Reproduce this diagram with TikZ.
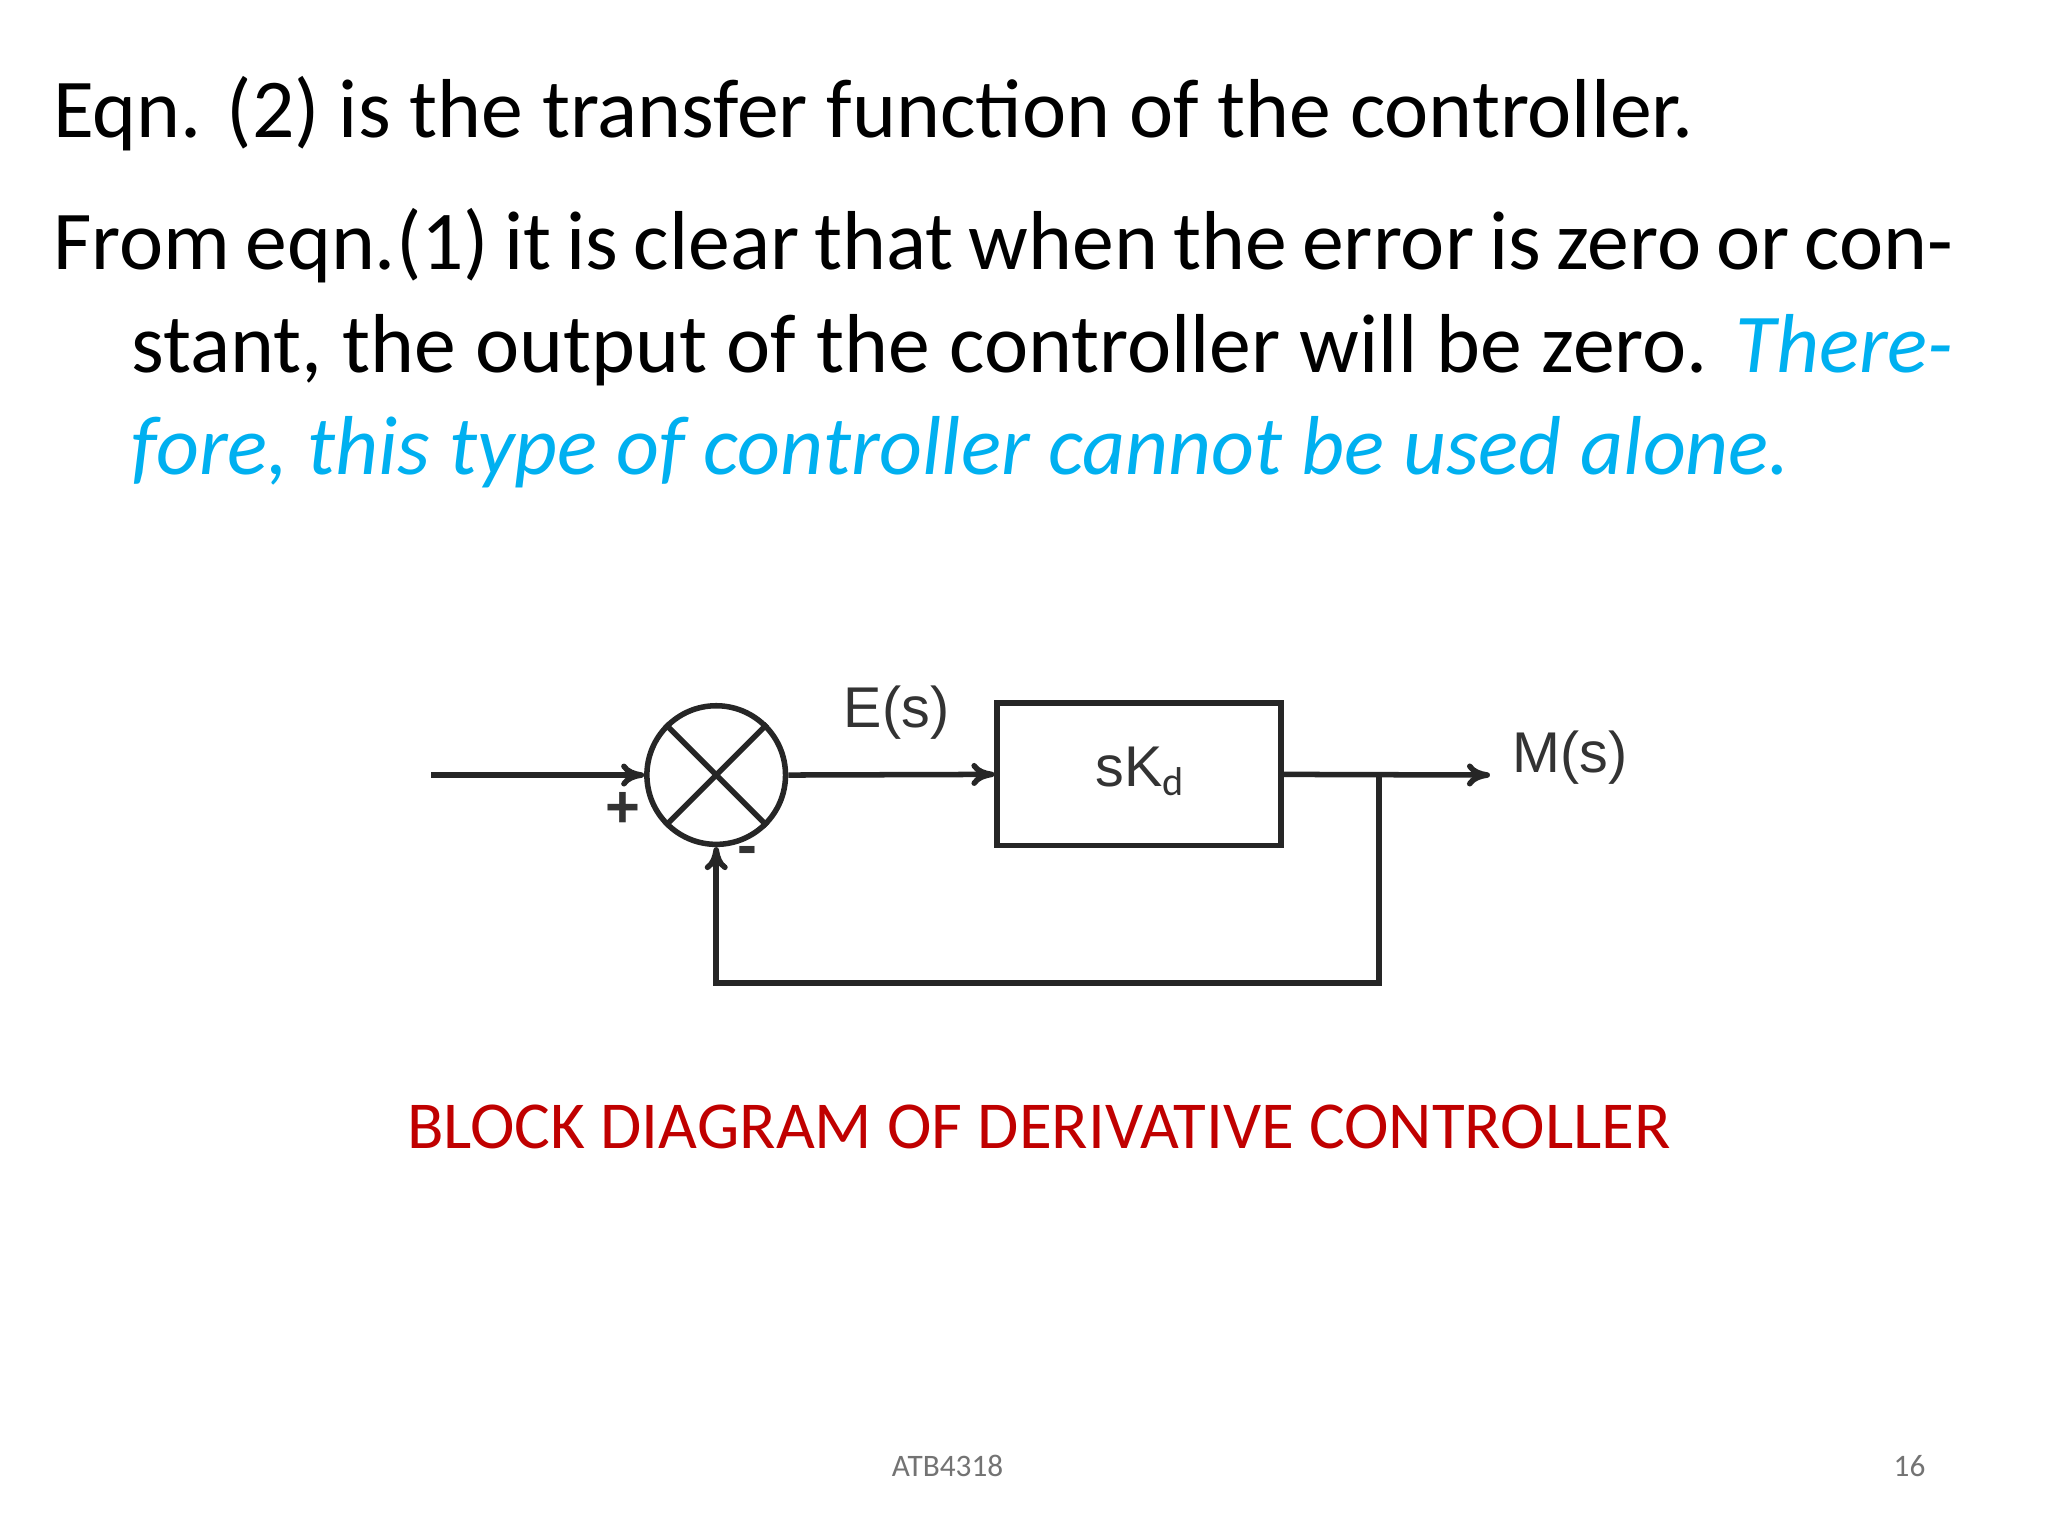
\documentclass[tikz,border=0pt]{standalone}
\usepackage{fontspec}
\setmainfont{Carlito}
\newfontfamily\arial{Liberation Sans}
\usetikzlibrary{arrows.meta}
\definecolor{cyanB}{RGB}{0,176,240}
\definecolor{redC}{RGB}{192,0,0}
\begin{document}
\begin{tikzpicture}[x=0.01cm,y=-0.01cm,
  wire/.style={line width=1.2pt,draw=black!85},
  arr/.style={wire,-{To[length=5pt,width=5pt]}},
  lbl/.style={font=\arial\fontsize{12.5}{15}\selectfont,text=black!80}]
\useasboundingbox[fill=white] (0,0) rectangle (1567,1175);
\node[anchor=north west,inner sep=0] (para) at (40,58) {\parbox{14.53cm}{\fontsize{18.2}{22}\selectfont
Eqn. (2) is the transfer function of the controller.\par\vspace{0.22cm}
\baselineskip=0.785cm
\hangindent=0.6cm \hangafter=1
From eqn.(1) it is clear that when the error is zero or constant, the output of the controller will be zero. {\color{cyanB}\itshape Therefore, this type of controller cannot be used alone.}\par}};
\node[circle,wire,minimum size=1.06cm,inner sep=0] (sum) at (548,593) {};
\draw[wire] (sum.north west) -- (sum.south east) (sum.north east) -- (sum.south west);
\node[wire,minimum width=2.17cm,minimum height=1.09cm,inner sep=0] (blk) at (871.5,592.5) {};
\node[lbl] (k) at (873,590) {sK$_\mathrm{d}$};
\coordinate (in) at (330,593);
\coordinate (out) at (1140,593);
\coordinate (br) at (1055,593);
\coordinate (c1) at (1055,752);
\coordinate (c2) at (548,752);
\draw[arr] (in) -- (sum.west);
\draw[arr] (sum.east) -- (blk.west);
\draw[arr] (blk.east) -- (out);
\draw[arr] (br) -- (c1) -- (c2) -- (sum.south);
\node[lbl] (es) at (686,545) {E(s)};
\node[lbl,anchor=west] (ms) at (1145,580) {M(s)};
\node[lbl,font=\arial\bfseries\fontsize{13}{16}\selectfont] (plus) at (477,620) {+};
\node[lbl,font=\arial\bfseries\fontsize{13}{16}\selectfont] (minus) at (572,655) {-};
\node[text=redC,font=\fontsize{14.6}{17}\selectfont] (cap) at (795,862) {BLOCK DIAGRAM OF DERIVATIVE CONTROLLER};
\node[text=black!55,font=\fontsize{6.8}{8}\selectfont] (ft) at (725,1122) {ATB4318};
\node[text=black!55,font=\fontsize{6.8}{8}\selectfont] (pg) at (1461,1122) {16};
\end{tikzpicture}
\end{document}
